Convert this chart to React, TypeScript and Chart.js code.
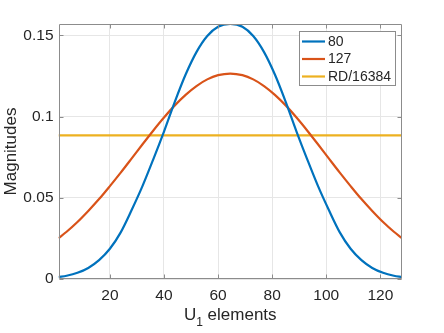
import React, { useEffect, useRef } from "react";
import { Chart, registerables } from "chart.js";

Chart.register(...registerables);

// ---- data ----
const xs = [1, 4, 8, 12, 16, 20, 24, 28, 32, 36, 40, 44, 48, 52, 56, 60, 64.5, 69, 73, 77, 81, 85, 89, 93, 97, 101, 105, 109, 113, 117, 121, 125, 128];
const series80 = [0.0012, 0.002, 0.0038, 0.0068, 0.0116, 0.0186, 0.0287, 0.0423, 0.057, 0.0735, 0.0908, 0.1091, 0.1259, 0.1397, 0.1496, 0.1553, 0.157, 0.1553, 0.1496, 0.1397, 0.1259, 0.1091, 0.0908, 0.0735, 0.057, 0.0423, 0.0287, 0.0186, 0.0116, 0.0068, 0.0038, 0.002, 0.0012];
const series127 = [0.0251, 0.0291, 0.0351, 0.0419, 0.0492, 0.0572, 0.0655, 0.0741, 0.0828, 0.0913, 0.0994, 0.1069, 0.1134, 0.1188, 0.1229, 0.1255, 0.1265, 0.1255, 0.1229, 0.1188, 0.1134, 0.1069, 0.0994, 0.0913, 0.0828, 0.0741, 0.0655, 0.0572, 0.0492, 0.0419, 0.0351, 0.0291, 0.0251];
const seriesRD = [0.0884, 0.0884, 0.0884, 0.0884, 0.0884, 0.0884, 0.0884, 0.0884, 0.0884, 0.0884, 0.0884, 0.0884, 0.0884, 0.0884, 0.0884, 0.0884, 0.0884, 0.0884, 0.0884, 0.0884, 0.0884, 0.0884, 0.0884, 0.0884, 0.0884, 0.0884, 0.0884, 0.0884, 0.0884, 0.0884, 0.0884, 0.0884, 0.0884];
const seriesNames = ["80", "127", "RD/16384"];
const seriesColors = ["#0072BD", "#D95319", "#EDB120"];
const xTicks = [20, 40, 60, 80, 100, 120];
const yTicks = [0, 0.05, 0.1, 0.15];
const yTickLabels = ["0", "0.05", "0.1", "0.15"];
const xMin = 1;
const xMax = 128;
const yMin = 0;
const yMax = 0.157;
const yTitle = "Magnitudes";
const xTitleMain = "U";
const xTitleSub = "1";
const xTitleRest = " elements";

const FAMILY = '"Liberation Sans", Arial, Helvetica, sans-serif';
const TEXT = "#262626";
const AXIS = "#8c8c8c";

const matlabPlugin = {
  id: "matlabLook",
  afterDatasetsDraw(chart: any) {
    const { ctx, chartArea: a, scales } = chart;
    const sx = scales.x;
    const sy = scales.y;
    const L = Math.round(a.left) + 0.5;
    const R = Math.round(a.right) - 0.5;
    const T = Math.round(a.top) + 0.5;
    const B = Math.round(a.bottom) - 0.5;
    ctx.save();
    ctx.strokeStyle = AXIS;
    ctx.lineWidth = 1;
    ctx.beginPath();
    ctx.rect(L, T, R - L, B - T);
    xTicks.forEach((v) => {
      const px = Math.round(sx.getPixelForValue(v)) + 0.5;
      ctx.moveTo(px, B);
      ctx.lineTo(px, B - 4);
      ctx.moveTo(px, T);
      ctx.lineTo(px, T + 4);
    });
    yTicks.forEach((v) => {
      const py = Math.round(sy.getPixelForValue(v)) + 0.5;
      ctx.moveTo(L, py);
      ctx.lineTo(L + 4, py);
      ctx.moveTo(R, py);
      ctx.lineTo(R - 4, py);
    });
    ctx.stroke();

    // legend (inside, top-right)
    const lx = 299.5;
    const ly = 31.5;
    const lw = 96;
    const lh = 54;
    ctx.fillStyle = "#ffffff";
    ctx.fillRect(lx, ly, lw, lh);
    ctx.strokeStyle = "#8c8c8c";
    ctx.strokeRect(lx, ly, lw, lh);
    ctx.font = `14px ${FAMILY}`;
    ctx.textBaseline = "middle";
    ctx.textAlign = "left";
    chart.data.datasets.forEach((ds: any, i: number) => {
      const cy = 41.5 + i * 17.5;
      ctx.strokeStyle = ds.borderColor;
      ctx.lineWidth = 2.2;
      ctx.beginPath();
      ctx.moveTo(302, cy);
      ctx.lineTo(325, cy);
      ctx.stroke();
      ctx.fillStyle = TEXT;
      ctx.fillText(ds.label, 328, cy + 0.5);
    });
    ctx.restore();
  },
  afterDraw(chart: any) {
    const { ctx, chartArea: a } = chart;
    ctx.save();
    ctx.fillStyle = TEXT;
    // y title
    ctx.font = `17px ${FAMILY}`;
    ctx.textAlign = "center";
    ctx.textBaseline = "alphabetic";
    ctx.translate(15.5, (a.top + a.bottom) / 2);
    ctx.rotate(-Math.PI / 2);
    ctx.fillText(yTitle, 0, 0);
    ctx.setTransform(1, 0, 0, 1, 0, 0);
    // x title with subscript
    ctx.textAlign = "left";
    ctx.font = `17px ${FAMILY}`;
    const w1 = ctx.measureText(xTitleMain).width;
    const w3 = ctx.measureText(xTitleRest).width;
    ctx.font = `12px ${FAMILY}`;
    const w2 = ctx.measureText(xTitleSub).width;
    const total = w1 + w2 + w3;
    const cx = (a.left + a.right) / 2;
    let x0 = cx - total / 2;
    const base = 320;
    ctx.font = `17px ${FAMILY}`;
    ctx.fillText(xTitleMain, x0, base);
    x0 += w1;
    ctx.font = `12px ${FAMILY}`;
    ctx.fillText(xTitleSub, x0, base + 6);
    x0 += w2;
    ctx.font = `17px ${FAMILY}`;
    ctx.fillText(xTitleRest, x0, base);
    ctx.restore();
  },
};

export default function App() {
  const ref = useRef<HTMLCanvasElement>(null);
  useEffect(() => {
    document.body.style.margin = "0";
    const allSeries = [series80, series127, seriesRD];
    const chart = new Chart(ref.current as HTMLCanvasElement, {
      type: "line",
      data: {
        datasets: allSeries.map((s, k) => ({
          label: seriesNames[k],
          data: xs.map((x, i) => ({ x, y: s[i] })),
          borderColor: seriesColors[k],
          backgroundColor: seriesColors[k],
          borderWidth: 2.2,
          pointRadius: 0,
          fill: false,
          cubicInterpolationMode: "monotone" as const,
        })),
      },
      options: {
        responsive: false,
        animation: false,
        devicePixelRatio: 1,
        layout: { padding: { top: 24, right: 42, left: 0, bottom: 0 } },
        plugins: {
          legend: { display: false },
          tooltip: { enabled: false },
          title: { display: false },
        },
        scales: {
          x: {
            type: "linear",
            min: xMin,
            max: xMax,
            afterBuildTicks: (s: any) => {
              s.ticks = xTicks.map((v) => ({ value: v }));
            },
            afterFit: (s: any) => {
              s.height = 54;
            },
            ticks: {
              autoSkip: false,
              maxRotation: 0,
              padding: 7,
              color: TEXT,
              font: { family: FAMILY, size: 15.5 },
              callback: (v: any) => String(v),
            },
            grid: { color: "#e6e6e6", drawTicks: false, lineWidth: 1 },
            border: { display: false },
          },
          y: {
            type: "linear",
            min: yMin,
            max: yMax,
            afterBuildTicks: (s: any) => {
              s.ticks = yTicks.map((v) => ({ value: v }));
            },
            afterFit: (s: any) => {
              s.width = 58.5;
            },
            ticks: {
              autoSkip: false,
              padding: 5,
              color: TEXT,
              font: { family: FAMILY, size: 15.5 },
              callback: (v: any) => {
                const idx = yTicks.indexOf(v);
                return idx >= 0 ? yTickLabels[idx] : "";
              },
            },
            grid: { color: "#e6e6e6", drawTicks: false, lineWidth: 1 },
            border: { display: false },
          },
        },
      },
      plugins: [matlabPlugin],
    });
    return () => chart.destroy();
  }, []);
  return (
    <div style={{ position: "absolute", left: 0, top: 0, width: 444, height: 333, background: "#ffffff" }}>
      <canvas ref={ref} width={444} height={333} style={{ width: 444, height: 333, display: "block" }} />
    </div>
  );
}
